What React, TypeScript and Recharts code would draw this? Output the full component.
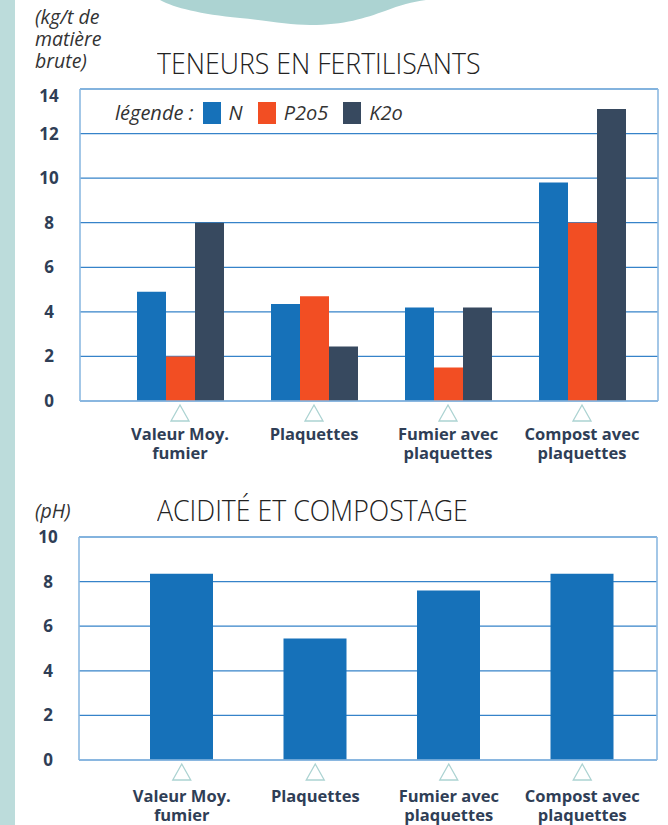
import React from "react";
import {
  Bar,
  BarChart,
  CartesianGrid,
  Legend,
  XAxis,
  YAxis
} from "recharts";

const categories = [
  ["Valeur Moy.", "fumier"],
  ["Plaquettes"],
  ["Fumier avec", "plaquettes"],
  ["Compost avec", "plaquettes"]
];

const seriesNames = ["N", "P2o5", "K2o"];
const nValues = [4.9, 4.35, 4.2, 9.8];
const p2o5Values = [2.0, 4.7, 1.5, 8.0];
const k2oValues = [8.0, 2.45, 4.2, 13.1];
const phValues = [8.35, 5.45, 7.6, 8.35];

const fertTicks = [0, 2, 4, 6, 8, 10, 12, 14];
const phTicks = [0, 2, 4, 6, 8, 10];

const fertData = categories.map((c, i) => ({
  name: c.join(" "),
  N: nValues[i],
  P2o5: p2o5Values[i],
  K2o: k2oValues[i]
}));

const phData = categories.map((c, i) => ({
  name: c.join(" "),
  pH: phValues[i]
}));

const BLUE = "#1671b9";
const ORANGE = "#f24e23";
const SLATE = "#37495f";
const NAVY = "#2f3e56";
const GRID = "#3683c9";
const BORDER = "#8cb9e1";
const TEAL = "#acd3d2";
const FONT = "'Open Sans', 'Noto Sans', sans-serif";

const YTick = (props: any) => {
  const { x, y, payload } = props;
  // the top label sits a little under its line in the original
  const dy = payload.value === 14 ? 13 : 6;
  return (
    <text
      x={x - 31}
      y={y + dy}
      textAnchor="middle"
      fill={NAVY}
      fontSize={17}
      fontWeight={700}
      fontFamily={FONT}
    >
      {payload.value}
    </text>
  );
};

const XTick = (props: any) => {
  const { x, y, index, shift = 0 } = props;
  const lines = categories[index] || [];
  return (
    <g>
      <polygon
        points={`${x},${y + 4} ${x - 9},${y + 20} ${x + 9},${y + 20}`}
        fill="none"
        stroke={TEAL}
        strokeWidth={1.3}
      />
      <text
        x={x}
        y={y + 39 + shift}
        textAnchor="middle"
        fill={NAVY}
        fontSize={16.5}
        fontWeight={700}
        fontFamily={FONT}
      >
        {lines.map((l, i) => (
          <tspan key={i} x={x} dy={i === 0 ? 0 : 18.5}>
            {l}
          </tspan>
        ))}
      </text>
    </g>
  );
};

const boxH = (p: any) => (p && p.offset ? [p.offset.top, p.offset.top + p.offset.height] : []);
const boxV = (p: any) => (p && p.offset ? [p.offset.left, p.offset.left + p.offset.width] : []);

const LegendContent = (props: any) => {
  const items = seriesNames
    .map((n) => (props.payload || []).find((e: any) => e.value === n))
    .filter(Boolean);
  return (
    <div
      style={{
        display: "flex",
        alignItems: "center",
        fontFamily: FONT,
        fontStyle: "italic",
        fontSize: 20,
        color: "#333"
      }}
    >
      <span style={{ marginRight: 9 }}>légende :</span>
      {items.map((e: any) => (
        <span key={e.value} style={{ display: "flex", alignItems: "center", marginRight: 15 }}>
          <span style={{ width: 18, height: 22, background: e.color, marginRight: 8 }} />
          {e.value}
        </span>
      ))}
    </div>
  );
};

const textStyle: React.CSSProperties = {
  position: "absolute",
  fontFamily: FONT,
  color: "#222",
  margin: 0,
  whiteSpace: "nowrap"
};

const titleStyle: React.CSSProperties = {
  ...textStyle,
  fontSize: 29,
  fontWeight: 300,
  transform: "scaleX(0.92)",
  transformOrigin: "left top"
};

export default function App() {
  return (
    <div
      style={{
        position: "absolute",
        left: 0,
        top: 0,
        width: 668,
        height: 825,
        background: "#fff",
        overflow: "hidden"
      }}
    >
      <svg width={668} height={825} style={{ position: "absolute", left: 0, top: 0 }}>
        <rect x={0} y={0} width={15} height={825} fill="#bcdcdb" />
        <path
          d="M160 0 C 175 8, 200 14, 240 18 C 270 21, 290 25, 310 25 C 345 25, 365 18, 385 11 C 400 5, 412 2, 426 0 Z"
          fill={TEAL}
        />
      </svg>

      <div style={{ ...textStyle, left: 35, top: 6, fontStyle: "italic", fontSize: 19.5, lineHeight: "22px", color: "#333" }}>
        (kg/t de
        <br />
        matière
        <br />
        brute)
      </div>
      <div style={{ ...titleStyle, left: 157, top: 43 }}>TENEURS EN FERTILISANTS</div>

      <div style={{ ...textStyle, left: 35, top: 497, fontStyle: "italic", fontSize: 19.5, color: "#333" }}>
        (pH)
      </div>
      <div style={{ ...titleStyle, left: 157, top: 490 }}>ACIDITÉ ET COMPOSTAGE</div>

      <div style={{ position: "absolute", left: 0, top: 0 }}>
        <BarChart
          width={668}
          height={470}
          data={fertData}
          margin={{ top: 89, right: 10, bottom: 9, left: 0 }}
          barGap={0}
        >
          <CartesianGrid vertical={false} stroke={GRID} strokeWidth={1.3} />
          <CartesianGrid
            stroke={BORDER}
            strokeWidth={1.6}
            horizontalCoordinatesGenerator={boxH}
            verticalCoordinatesGenerator={boxV}
          />
          <XAxis
            dataKey="name"
            height={60}
            padding={{ left: 33, right: 9 }}
            tickLine={false}
            tickSize={0}
            tickMargin={0}
            axisLine={{ stroke: BORDER, strokeWidth: 1.6 }}
            tick={<XTick />}
            interval={0}
          />
          <YAxis
            width={80}
            domain={[0, 14]}
            ticks={fertTicks}
            interval={0}
            axisLine={false}
            tickLine={false}
            tickSize={0}
            tickMargin={0}
            tick={<YTick />}
          />
          <Legend
            layout="horizontal"
            verticalAlign="middle"
            align="center"
            wrapperStyle={{ top: 99, left: 115, width: "auto" }}
            content={<LegendContent />}
          />
          <Bar dataKey="N" name="N" fill={BLUE} barSize={29} isAnimationActive={false} />
          <Bar dataKey="P2o5" name="P2o5" fill={ORANGE} barSize={29} isAnimationActive={false} />
          <Bar dataKey="K2o" name="K2o" fill={SLATE} barSize={29} isAnimationActive={false} />
        </BarChart>
      </div>

      <div style={{ position: "absolute", left: 0, top: 480 }}>
        <BarChart
          width={668}
          height={345}
          data={phData}
          margin={{ top: 57, right: 11, bottom: 5, left: 0 }}
        >
          <CartesianGrid vertical={false} stroke={GRID} strokeWidth={1.3} />
          <CartesianGrid
            stroke={BORDER}
            strokeWidth={1.6}
            horizontalCoordinatesGenerator={boxH}
            verticalCoordinatesGenerator={boxV}
          />
          <XAxis
            dataKey="name"
            height={60}
            padding={{ left: 36, right: 8 }}
            tickLine={false}
            tickSize={0}
            tickMargin={0}
            axisLine={{ stroke: BORDER, strokeWidth: 1.6 }}
            tick={<XTick shift={3} />}
            interval={0}
          />
          <YAxis
            width={79}
            domain={[0, 10]}
            ticks={phTicks}
            interval={0}
            axisLine={false}
            tickLine={false}
            tickSize={0}
            tickMargin={0}
            tick={<YTick />}
          />
          <Bar dataKey="pH" fill={BLUE} barSize={63} isAnimationActive={false} />
        </BarChart>
      </div>
    </div>
  );
}
